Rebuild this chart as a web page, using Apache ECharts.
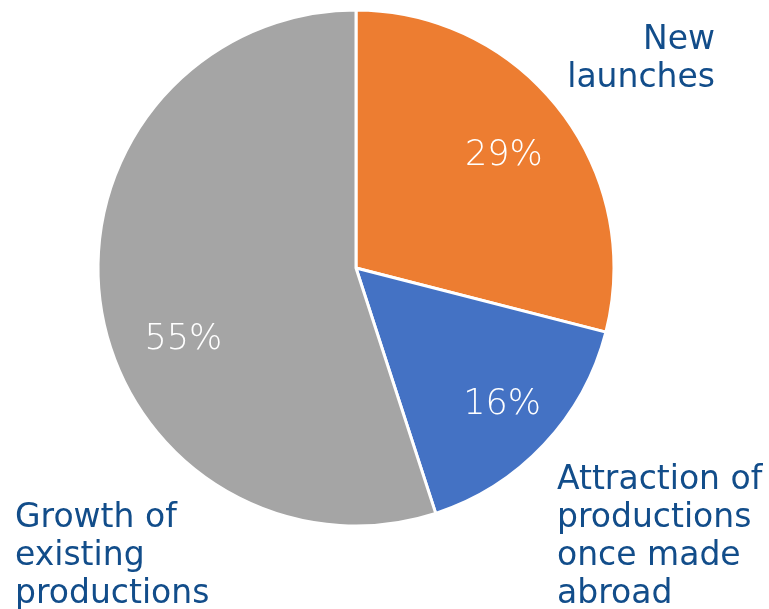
<!DOCTYPE html>
<html>
<head>
<meta charset="utf-8">
<script src="https://cdn.jsdelivr.net/npm/echarts@6/dist/echarts.min.js"></script>
<style>
html,body{margin:0;padding:0;background:#fff;}
#chart{width:769px;height:609px;}
</style>
</head>
<body>
<div id="chart"></div>
<script>
var categories = ['New launches', 'Attraction of productions once made abroad', 'Growth of existing productions'];
var labelLines = ['New\nlaunches', 'Attraction of\nproductions\nonce made\nabroad', 'Growth of\nexisting\nproductions'];
var values = [29, 16, 55];
var colors = ['#ED7D31', '#4472C4', '#A5A5A5'];

var chart = echarts.init(document.getElementById('chart'));
var labelOffsets = [[-3, 5], [7, 6], [16, 42]];
var data = categories.map(function (c, i) {
  return { name: c, value: values[i], itemStyle: { color: colors[i] } };
});
var overlayData = categories.map(function (c, i) {
  return { name: c, value: values[i], label: { offset: labelOffsets[i] } };
});
var font = 'DejaVu Sans, Verdana, sans-serif';
var textColor = '#124D8A';
var outFont = '33px ' + font;
chart.setOption({
  animation: false,
  series: [
    {
      type: 'pie',
      center: [356, 268],
      radius: [0, 258],
      startAngle: 90,
      clockwise: true,
      silent: true,
      label: { show: false },
      labelLine: { show: false },
      itemStyle: { borderColor: '#fff', borderWidth: 3 },
      data: data
    },
    {
      type: 'pie',
      center: [356, 268],
      radius: [0, 376],
      startAngle: 90,
      clockwise: true,
      silent: true,
      itemStyle: { color: 'rgba(0,0,0,0)' },
      label: {
        show: true,
        position: 'inside',
        color: '#fff',
        fontFamily: font,
        fontWeight: 300,
        fontSize: 35,
        formatter: function (p) { return p.value + '%'; }
      },
      labelLine: { show: false },
      data: overlayData
    }
  ],
  graphic: [
    { type: 'text',
      style: { x: 715, y: 21, text: labelLines[0], align: 'right', fill: textColor, font: outFont, lineHeight: 38 } },
    { type: 'text',
      style: { x: 557, y: 461, text: labelLines[1], align: 'left', fill: textColor, font: outFont, lineHeight: 38 } },
    { type: 'text',
      style: { x: 15, y: 499, text: labelLines[2], align: 'left', fill: textColor, font: outFont, lineHeight: 38 } }
  ]
});
</script>
</body>
</html>
